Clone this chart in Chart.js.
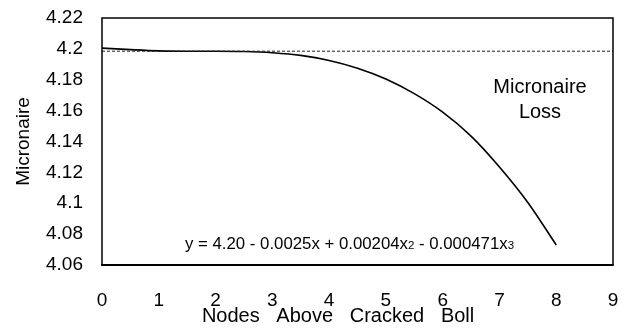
<!DOCTYPE html>
<html>
<head>
<meta charset="utf-8">
<script src="https://cdn.jsdelivr.net/npm/chart.js@4/dist/chart.umd.min.js"></script>
<style>
  html, body { margin: 0; padding: 0; background: #fff; }
</style>
</head>
<body>
<canvas id="lossChart" width="629" height="331"></canvas>
<script>
// Micronaire vs. nodes above cracked boll
const nodes = [0, 0.5, 1, 1.5, 2, 2.5, 3, 3.5, 4, 4.5, 5, 5.5, 6, 6.5, 7, 7.5, 8];
const micronaire = [4.2005, 4.1995, 4.1987, 4.1985, 4.1985, 4.1983, 4.1975, 4.1958, 4.1925,
                    4.1875, 4.1805, 4.1710, 4.1590, 4.1435, 4.1235, 4.1005, 4.0730];

// reference level (dashed)
const refNodes = [0, 9];
const refLevel = [4.1985, 4.1985];

const xTicks = [0, 1, 2, 3, 4, 5, 6, 7, 8, 9];
const yTicks = [4.06, 4.08, 4.1, 4.12, 4.14, 4.16, 4.18, 4.2, 4.22];
const yTickLabels = ["4.06", "4.08", "4.1", "4.12", "4.14", "4.16", "4.18", "4.2", "4.22"];

const FONT = "'Liberation Sans', Arial, sans-serif";

// frame, label and fitted equation
const notes = {
  id: "notes",
  afterDatasetsDraw(chart) {
    const { ctx, chartArea: a } = chart;
    ctx.save();
    ctx.strokeStyle = "#000";
    ctx.lineWidth = 1.5;
    ctx.beginPath();
    ctx.moveTo(a.left, a.bottom);
    ctx.lineTo(a.left, a.top);
    ctx.lineTo(a.right, a.top);
    ctx.lineTo(a.right, a.bottom);
    ctx.stroke();
    ctx.lineWidth = 2.2;
    ctx.beginPath();
    ctx.moveTo(a.left - 1, a.bottom);
    ctx.lineTo(a.right + 0.75, a.bottom);
    ctx.stroke();

    ctx.fillStyle = "#000";
    ctx.textAlign = "center";
    ctx.textBaseline = "middle";
    ctx.font = "20px " + FONT;
    ctx.fillText("Micronaire", 540, 87);
    ctx.fillText("Loss", 540, 112);

    // y = ... with small power digits
    const parts = [
      ["y = 4.20 - 0.0025x + 0.00204x", 16.8],
      ["2", 11.5],
      [" - 0.000471x", 16.8],
      ["3", 11.5]
    ];
    ctx.textAlign = "left";
    ctx.textBaseline = "alphabetic";
    let x = 185;
    parts.forEach(([txt, size]) => {
      ctx.font = size + "px " + FONT;
      ctx.fillText(txt, x, 249);
      x += ctx.measureText(txt).width;
    });
    ctx.restore();
  }
};

new Chart(document.getElementById("lossChart"), {
  type: "line",
  data: {
    datasets: [
      {
        label: "level",
        data: refNodes.map((n, i) => ({ x: n, y: refLevel[i] })),
        borderColor: "#222",
        borderWidth: 1,
        borderDash: [3, 2],
        pointRadius: 0,
        fill: false
      },
      {
        label: "Micronaire",
        data: nodes.map((n, i) => ({ x: n, y: micronaire[i] })),
        borderColor: "#000",
        borderWidth: 1.6,
        pointRadius: 0,
        cubicInterpolationMode: "monotone",
        fill: false
      }
    ]
  },
  options: {
    responsive: false,
    animation: false,
    devicePixelRatio: 1,
    layout: { padding: { left: 0, right: 16, top: 18, bottom: 0 } },
    plugins: {
      legend: { display: false },
      tooltip: { enabled: false }
    },
    scales: {
      x: {
        type: "linear",
        min: 0,
        max: 9,
        afterBuildTicks: (s) => { s.ticks = xTicks.map(v => ({ value: v })); },
        afterFit: (s) => {
          s.height = 66;
          s.paddingLeft = 0;
          s.paddingRight = 0;
        },
        grid: { display: false, drawTicks: false },
        border: { display: false },
        ticks: { color: "#000", padding: 24, font: { family: FONT, size: 19 } },
        title: {
          display: true,
          text: "Nodes   Above   Cracked   Boll       ",
          color: "#000",
          font: { family: FONT, size: 20 },
          padding: { top: 0, bottom: 3 }
        }
      },
      y: {
        min: 4.06,
        max: 4.22,
        afterBuildTicks: (s) => { s.ticks = yTicks.map(v => ({ value: v })); },
        afterFit: (s) => {
          s.width = 102;
          s.paddingTop = 0;
          s.paddingBottom = 0;
        },
        grid: { display: false, drawTicks: false },
        border: { display: false },
        ticks: {
          color: "#000",
          padding: 19,
          font: { family: FONT, size: 19 },
          callback: (v, i) => yTickLabels[i]
        },
        title: {
          display: true,
          text: "Micronaire",
          color: "#000",
          font: { family: FONT, size: 19 },
          padding: { top: 12, bottom: 0 }
        }
      }
    }
  },
  plugins: [notes]
});
</script>
</body>
</html>
